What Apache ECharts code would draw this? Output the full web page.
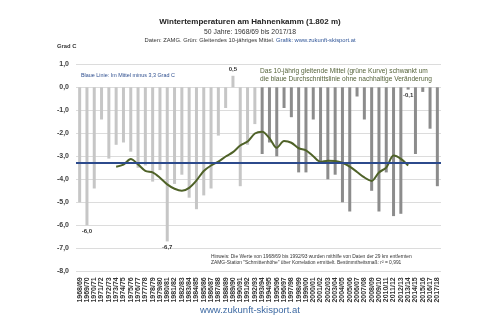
<!DOCTYPE html>
<html><head><meta charset="utf-8">
<script src="https://cdn.jsdelivr.net/npm/echarts@6/dist/echarts.min.js"></script>
<style>html,body{margin:0;padding:0;background:#fff}#c{width:500px;height:335px}</style>
</head><body><div id="c"></div>
<script>
const categories = ['1968/69','1969/70','1970/71','1971/72','1972/73','1973/74','1974/75','1975/76','1976/77','1977/78',
  '1978/79','1979/80','1980/81','1981/82','1982/83','1983/84','1984/85','1985/86','1986/87','1987/88',
  '1988/89','1989/90','1990/91','1991/92','1992/93','1993/94','1994/95','1995/96','1996/97','1997/98',
  '1998/99','1999/00','2000/01','2001/02','2002/03','2003/04','2004/05','2005/06','2006/07','2007/08',
  '2008/09','2009/10','2010/11','2011/12','2012/13','2013/14','2014/15','2015/16','2016/17','2017/18'];
const temperatures = [-5.0,-6.0,-4.4,-1.4,-3.1,-2.5,-2.4,-2.8,-3.5,-3.4,
  -4.1,-3.6,-6.7,-4.2,-3.8,-4.8,-5.3,-4.7,-4.4,-2.1,
  -0.9,0.5,-4.3,-2.5,-1.6,-2.9,-2.4,-3.0,-0.9,-1.3,
  -3.7,-3.7,-1.4,-3.2,-4.0,-3.8,-5.0,-5.4,-0.4,-1.4,
  -4.5,-5.4,-3.7,-5.6,-5.5,-0.1,-2.9,-0.2,-1.8,-4.3];
const movingAverage10 = [null,null,null,null,null,-3.45,-3.36,-3.12,-3.35,-3.63,
  -3.70,-3.93,-4.22,-4.41,-4.50,-4.37,-4.05,-3.64,-3.40,-3.23,
  -3.01,-2.82,-2.53,-2.36,-2.01,-1.93,-2.21,-2.63,-2.34,-2.41,
  -2.65,-2.74,-3.00,-3.24,-3.19,-3.20,-3.28,-3.45,-3.68,-3.92,
  -4.07,-3.70,-3.49,-2.97,-3.11,-3.40,null,null,null,null];
const meanValue = -3.27;
const lastEstimatedSeason = '1992/93';
const labelledSeasons = ['1969/70','1980/81','1989/90','2013/14'];
const yMin = -8, yMax = 1, yStep = 1;

const FONT = '"Liberation Sans", Arial, sans-serif';
const fmt = v => v.toFixed(1).replace('.', ',');
const lastEstIdx = categories.indexOf(lastEstimatedSeason);

const barData = temperatures.map((v, i) => ({
  value: v,
  itemStyle: { color: i <= lastEstIdx ? '#c6c6c6' : '#8c8c8c' },
  label: { show: labelledSeasons.includes(categories[i]) }
}));

const chart = echarts.init(document.getElementById('c'));
chart.setOption({
  animation: false,
  backgroundColor: '#fff',
  grid: { left: 76, right: 59, top: 64.3, bottom: 63.7, containLabel: false },
  xAxis: {
    type: 'category', data: categories,
    axisLine: { show: false }, axisTick: { show: false },
    axisLabel: { interval: 0, rotate: 90, fontSize: 7, fontWeight: 'bold', color: '#333', fontFamily: FONT, margin: 6 }
  },
  yAxis: {
    type: 'value', min: yMin, max: yMax, interval: yStep,
    axisLine: { show: false }, axisTick: { show: false },
    splitLine: { lineStyle: { color: '#dcdcdc', width: 1 } },
    axisLabel: { formatter: fmt, fontSize: 7, fontWeight: 'bold', color: '#404040', fontFamily: FONT, margin: 7 }
  },
  series: [
    {
      type: 'bar', data: barData, barWidth: 3, z: 2,
      label: { position: 'outside', formatter: p => fmt(p.value), fontSize: 6, fontWeight: 'bold', color: '#333', fontFamily: FONT, distance: 3 },
      markLine: {
        silent: true, symbol: 'none',
        data: [{ yAxis: meanValue }],
        lineStyle: { color: '#2c4a8c', width: 2, type: 'solid' },
        label: { show: false }
      }
    },
    {
      type: 'line', data: movingAverage10, smooth: 0.3, symbol: 'none', z: 3,
      lineStyle: { color: '#4f6228', width: 2 }
    }
  ],
  graphic: [
    { type: 'text', left: 'center', top: 18, style: { text: 'Wintertemperaturen am Hahnenkamm (1.802 m)', font: 'bold 8px ' + FONT, fill: '#222' } },
    { type: 'text', left: 'center', top: 28.5, style: { text: '50 Jahre: 1968/69 bis 2017/18', font: '6.8px ' + FONT, fill: '#333' } },
    { type: 'text', left: 'center', top: 37.5, style: {
        text: '{a|Daten: ZAMG. Grün: Gleitendes 10-jähriges Mittel. }{b|Grafik: www.zukunft-skisport.at}',
        font: '5.8px ' + FONT,
        rich: { a: { fill: '#333', font: '5.8px ' + FONT }, b: { fill: '#2f5597', font: '5.8px ' + FONT } } } },
    { type: 'text', left: 57, top: 43.5, style: { text: 'Grad C', font: 'bold 5.8px ' + FONT, fill: '#333' } },
    { type: 'text', left: 81, top: 73.5, style: { text: 'Blaue Linie: Im Mittel minus 3,3 Grad C', font: '5.4px ' + FONT, fill: '#2f4f8f' } },
    { type: 'text', left: 260, top: 67.5, style: { text: 'Das 10-jährig gleitende Mittel (grüne Kurve) schwankt um\ndie blaue Durchschnittslinie ohne nachhaltige Veränderung', font: '6.6px ' + FONT, fill: '#55633a', lineHeight: 8 } },
    { type: 'text', left: 211, top: 253, style: { text: 'Hinweis: Die Werte von 1968/69 bis 1992/93 wurden mithilfe von Daten der 29 km entfernten\nZAMG-Station "Schmittenhöhe" über Korrelation ermittelt. Bestimmtheitsmaß: r² = 0,991', font: '4.9px ' + FONT, fill: '#333', lineHeight: 6.5 } },
    { type: 'text', left: 'center', top: 305.5, style: { text: 'www.zukunft-skisport.at', font: '9.5px ' + FONT, fill: '#3e6aa3' } }
  ]
});
</script></body></html>
